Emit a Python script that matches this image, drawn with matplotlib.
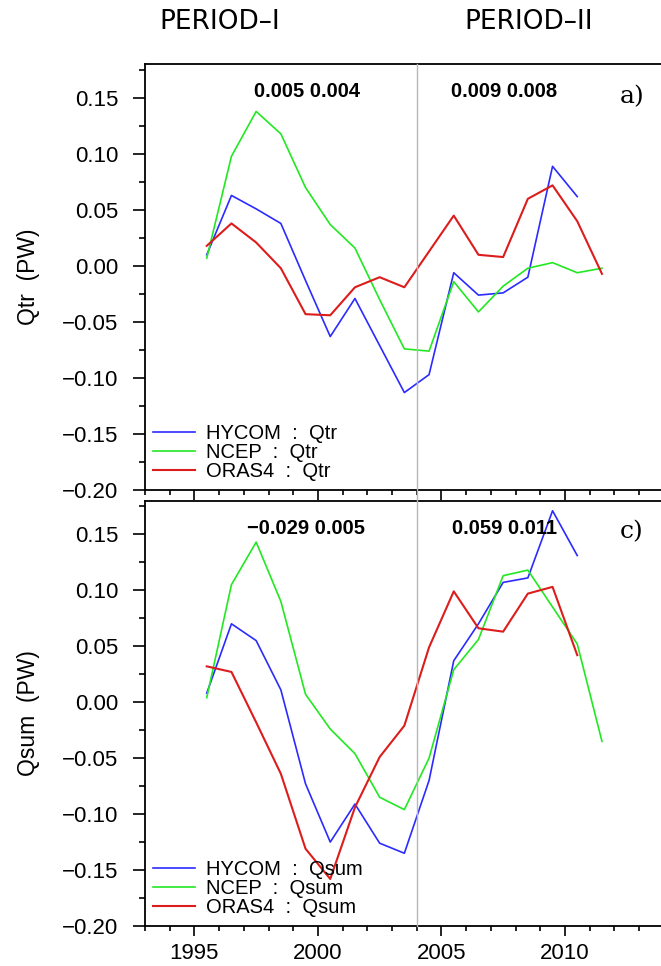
import matplotlib
matplotlib.use("Agg")
import matplotlib.pyplot as plt
import numpy as np
from matplotlib.ticker import MultipleLocator, FixedLocator, FuncFormatter
from matplotlib.lines import Line2D
from matplotlib.transforms import blended_transform_factory

# ---------------- data ----------------
years_full = [1995.5, 1996.5, 1997.5, 1998.5, 1999.5, 2000.5, 2001.5, 2002.5, 2003.5,
              2004.5, 2005.5, 2006.5, 2007.5, 2008.5, 2009.5, 2010.5, 2011.5]
years_hycom = years_full[:-1]

qtr_hycom = [0.010, 0.063, 0.051, 0.038, -0.013, -0.063, -0.029, -0.071, -0.113,
             -0.097, -0.006, -0.026, -0.024, -0.010, 0.089, 0.062]
qtr_ncep = [0.007, 0.098, 0.138, 0.118, 0.070, 0.037, 0.016, -0.030, -0.074,
            -0.076, -0.014, -0.041, -0.018, -0.002, 0.003, -0.006, -0.002]
qtr_oras4 = [0.018, 0.038, 0.021, -0.002, -0.043, -0.044, -0.019, -0.010, -0.019,
             0.013, 0.045, 0.010, 0.008, 0.060, 0.072, 0.040, -0.007]

qsum_hycom = [0.008, 0.070, 0.055, 0.011, -0.073, -0.125, -0.091, -0.126, -0.135,
              -0.070, 0.037, 0.070, 0.107, 0.111, 0.171, 0.131]
qsum_ncep = [0.004, 0.105, 0.143, 0.090, 0.007, -0.024, -0.046, -0.085, -0.096,
             -0.050, 0.029, 0.056, 0.113, 0.118, 0.085, 0.052, -0.035]
qsum_oras4 = [0.032, 0.027, -0.018, -0.064, -0.131, -0.158, -0.094, -0.049, -0.021,
              0.049, 0.099, 0.066, 0.063, 0.097, 0.103, 0.042]
years_oras4_sum = years_full[:-1]

series_names = ["HYCOM", "NCEP", "ORAS4"]
colors = ["#2b2bff", "#22e822", "#dd1c1c"]

yticks = [-0.20, -0.15, -0.10, -0.05, 0.00, 0.05, 0.10, 0.15]
xticks = [1995, 2000, 2005, 2010]
split_year = 2004

trend_top = ["0.005 0.004", "0.009 0.008"]
trend_bot = ["\u22120.029 0.005", "0.059 0.011"]

# ---------------- figure ----------------
W, H = 661, 966
fig = plt.figure(figsize=(W / 100, H / 100), dpi=100)

left = 145 / W
width = 543.4 / W
ax1 = fig.add_axes([left, (H - 490) / H, width, 425.6 / H])
ax2 = fig.add_axes([left, (H - 926) / H, width, 425.3 / H])

fmt = FuncFormatter(lambda v, p: f"{v:.2f}".replace("-", "\u2212"))


def style(ax, show_xlabels):
    ax.set_xlim(1993, 2015)
    ax.set_ylim(-0.20, 0.18)
    ax.yaxis.set_major_locator(FixedLocator(yticks))
    ax.yaxis.set_minor_locator(MultipleLocator(0.025))
    ax.yaxis.set_major_formatter(fmt)
    ax.xaxis.set_major_locator(FixedLocator(xticks))
    ax.xaxis.set_minor_locator(MultipleLocator(1))
    ax.tick_params(axis="y", which="major", direction="out", length=8.6, width=1.2, pad=10.5)
    ax.tick_params(axis="y", which="minor", direction="out", length=4.3, width=1.2)
    ax.tick_params(axis="x", which="major", direction="out", length=7.2, width=1.2, pad=5,
                   labelbottom=show_xlabels)
    ax.tick_params(axis="x", which="minor", direction="out", length=3.6, width=1.2)
    ax.spines["right"].set_visible(False)
    for s in ["left", "bottom", "top"]:
        ax.spines[s].set_linewidth(1.3)
    for lab in ax.get_yticklabels() + ax.get_xticklabels():
        lab.set_fontfamily("Liberation Sans")
        lab.set_fontsize(16)


style(ax1, False)
style(ax2, True)

# lines
tr_h, = ax1.plot(years_hycom, qtr_hycom, color=colors[0], lw=1.2)
tr_n, = ax1.plot(years_full, qtr_ncep, color=colors[1], lw=1.2)
tr_o, = ax1.plot(years_full, qtr_oras4, color=colors[2], lw=1.5)

su_h, = ax2.plot(years_hycom, qsum_hycom, color=colors[0], lw=1.2)
su_n, = ax2.plot(years_full, qsum_ncep, color=colors[1], lw=1.2)
su_o, = ax2.plot(years_oras4_sum, qsum_oras4, color=colors[2], lw=1.5)

leg_kw = dict(loc="lower left", frameon=False, handlelength=2.1, handletextpad=0.5,
              labelspacing=0.0, borderpad=0, borderaxespad=0,
              prop=dict(family="Liberation Sans", size=14.5))
ax1.legend([tr_h, tr_n, tr_o], [f"{n}  :  Qtr" for n in series_names],
           bbox_to_anchor=(0.015, 0.022), **leg_kw)
ax2.legend([su_h, su_n, su_o], [f"{n}  :  Qsum" for n in series_names],
           bbox_to_anchor=(0.015, 0.022), **leg_kw)

# y labels
ax1.set_ylabel("Qtr  (PW)", family="Liberation Sans", fontsize=16.5)
ax2.set_ylabel("Qsum  (PW)", family="Liberation Sans", fontsize=16.5)
for ax in (ax1, ax2):
    ax.yaxis.set_label_coords(-(145 - 40) / 543.4, 0.5)

# trend annotations
bold = dict(family="Liberation Sans", weight="bold", fontsize=14.5, ha="center", va="center")
ax1.text(1999.55, 0.1555, trend_top[0], **bold)
ax1.text(2007.55, 0.1555, trend_top[1], **bold)
ax2.text(1999.5, 0.155, trend_bot[0], **bold)
ax2.text(2007.55, 0.155, trend_bot[1], **bold)

panel = dict(family="DejaVu Serif", fontsize=18, ha="center", va="center")
ax1.text(2012.72, 0.151, "a)", **panel)
ax2.text(2012.72, 0.152, "c)", **panel)

# period split line through both panels
tr = blended_transform_factory(ax1.transData, fig.transFigure)
y_bot = (H - 926) / H
y_top = (H - 490 + 425.6) / H
fig.add_artist(Line2D([split_year, split_year], [y_bot, y_top], transform=tr,
                      color="#b8b8b8", lw=1.0, zorder=0.5))

# period titles
fig.text(220 / W, 1 - 21.7 / H, "PERIOD\u2013I", family="DejaVu Sans", fontsize=19,
         ha="center", va="center")
fig.text(528.6 / W, 1 - 21.7 / H, "PERIOD\u2013II", family="DejaVu Sans", fontsize=19,
         ha="center", va="center")

fig.savefig("out.png", dpi=100)
